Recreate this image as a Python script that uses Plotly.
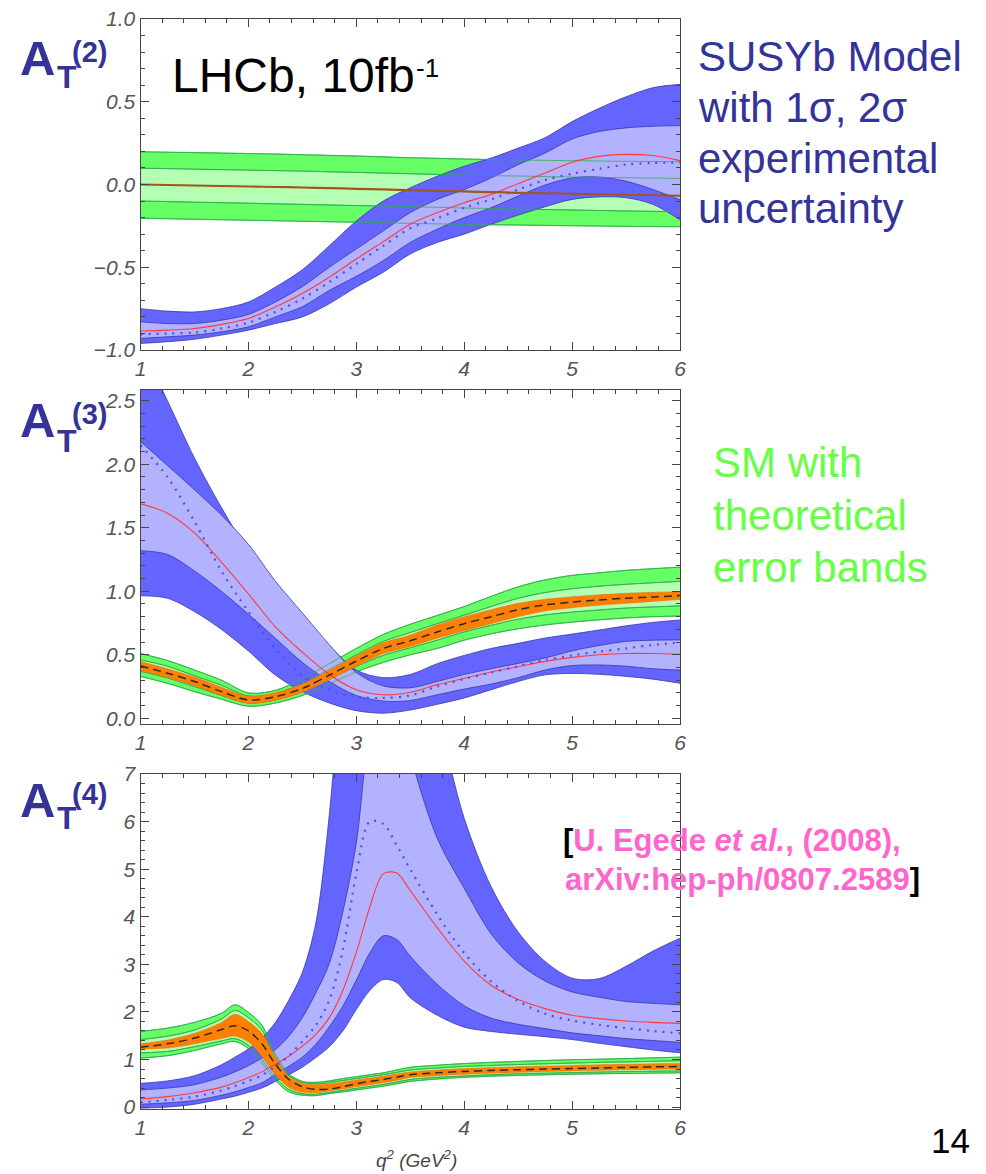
import plotly.graph_objects as go
from plotly.subplots import make_subplots

W, H = 986, 1174

# ---------------- data ----------------
x1 = [1.0, 1.25, 1.5, 1.75, 2.0, 2.25, 2.5, 2.75, 3.0, 3.25, 3.5, 3.75,
      4.0, 4.25, 4.5, 4.75, 5.0, 5.25, 5.5, 5.75, 6.0]

# Panel 1: A_T^(2)
sm1_center = [0.0, -0.003, -0.006, -0.009, -0.012, -0.015, -0.018, -0.022, -0.026, -0.03, -0.034,
              -0.038, -0.042, -0.046, -0.05, -0.053, -0.056, -0.059, -0.062, -0.065, -0.068]
sm1_outer_hi = [0.198, 0.195, 0.193, 0.19, 0.187, 0.184, 0.18, 0.176, 0.172, 0.167, 0.162,
                0.158, 0.154, 0.151, 0.148, 0.146, 0.144, 0.142, 0.14, 0.139, 0.138]
sm1_outer_lo = [-0.204, -0.207, -0.21, -0.213, -0.216, -0.219, -0.222, -0.225, -0.228, -0.231, -0.235,
                -0.238, -0.241, -0.243, -0.245, -0.247, -0.249, -0.251, -0.253, -0.254, -0.255]
sm1_inner_hi = [0.098, 0.096, 0.093, 0.09, 0.087, 0.084, 0.081, 0.077, 0.073, 0.069, 0.065,
                0.061, 0.057, 0.054, 0.051, 0.048, 0.045, 0.043, 0.041, 0.039, 0.037]
sm1_inner_lo = [-0.10, -0.103, -0.107, -0.11, -0.113, -0.117, -0.12, -0.124, -0.127, -0.131, -0.134,
                -0.138, -0.142, -0.145, -0.148, -0.151, -0.154, -0.157, -0.16, -0.162, -0.164]

np1_2s_hi = [-0.75, -0.765, -0.77, -0.75, -0.71, -0.62, -0.515, -0.37, -0.22, -0.10, -0.02,
             0.05, 0.11, 0.16, 0.22, 0.283, 0.38, 0.46, 0.53, 0.585, 0.605]
np1_1s_hi = [-0.83, -0.84, -0.84, -0.82, -0.785, -0.71, -0.617, -0.50, -0.39, -0.28, -0.17,
             -0.09, -0.03, 0.04, 0.12, 0.19, 0.275, 0.32, 0.342, 0.352, 0.356]
np1_central = [-0.885, -0.88, -0.87, -0.845, -0.81, -0.74, -0.658, -0.56, -0.45, -0.345, -0.24,
               -0.17, -0.11, -0.06, 0.005, 0.07, 0.135, 0.17, 0.182, 0.175, 0.144]
np1_dotted = [-0.905, -0.90, -0.895, -0.87, -0.835, -0.77, -0.69, -0.59, -0.48, -0.37, -0.265,
              -0.205, -0.14, -0.09, -0.03, 0.027, 0.065, 0.095, 0.12, 0.13, 0.132]
np1_1s_lo = [-0.93, -0.92, -0.91, -0.89, -0.86, -0.80, -0.738, -0.64, -0.555, -0.46, -0.35,
             -0.27, -0.20, -0.14, -0.07, -0.003, 0.04, 0.045, 0.02, -0.03, -0.093]
np1_2s_lo = [-0.96, -0.95, -0.935, -0.91, -0.88, -0.84, -0.80, -0.72, -0.62, -0.53, -0.42,
             -0.35, -0.30, -0.24, -0.185, -0.134, -0.09, -0.075, -0.08, -0.12, -0.214]

# Panel 2: A_T^(3)
sm2_center = [0.412, 0.355, 0.29, 0.21, 0.145, 0.17, 0.235, 0.34, 0.45, 0.55, 0.61,
              0.68, 0.745, 0.80, 0.855, 0.893, 0.915, 0.932, 0.945, 0.955, 0.966]
sm2_outer_hi = [0.51, 0.455, 0.38, 0.30, 0.20, 0.22, 0.31, 0.43, 0.55, 0.66, 0.74,
                0.81, 0.88, 0.96, 1.035, 1.09, 1.125, 1.145, 1.165, 1.178, 1.19]
sm2_outer_lo = [0.33, 0.275, 0.21, 0.15, 0.095, 0.12, 0.18, 0.27, 0.365, 0.44, 0.50,
                0.55, 0.615, 0.665, 0.705, 0.735, 0.757, 0.775, 0.79, 0.80, 0.805]
sm2_inner_hi = [0.46, 0.41, 0.335, 0.26, 0.175, 0.195, 0.275, 0.385, 0.50, 0.605, 0.675,
                0.745, 0.812, 0.88, 0.945, 0.99, 1.02, 1.04, 1.055, 1.067, 1.078]
sm2_inner_lo = [0.37, 0.318, 0.25, 0.18, 0.12, 0.145, 0.21, 0.305, 0.408, 0.495, 0.555,
                0.615, 0.68, 0.732, 0.78, 0.814, 0.836, 0.853, 0.868, 0.877, 0.885]
sm2_core_hi = [0.448, 0.39, 0.325, 0.245, 0.175, 0.2, 0.27, 0.378, 0.492, 0.595, 0.655,
               0.735, 0.80, 0.855, 0.905, 0.937, 0.957, 0.972, 0.984, 0.992, 0.997]
sm2_core_lo = [0.377, 0.322, 0.257, 0.18, 0.118, 0.14, 0.205, 0.305, 0.41, 0.508, 0.565,
               0.63, 0.69, 0.745, 0.80, 0.845, 0.87, 0.89, 0.905, 0.92, 0.935]

np2_2s_hi = [2.95, 2.50, 2.05, 1.66, 1.31, 1.01, 0.78, 0.57, 0.38, 0.32, 0.345,
             0.43, 0.495, 0.55, 0.59, 0.632, 0.663, 0.695, 0.728, 0.755, 0.774]
np2_1s_hi = [2.18, 1.99, 1.80, 1.60, 1.37, 1.08, 0.83, 0.58, 0.36, 0.255, 0.24,
             0.29, 0.345, 0.39, 0.432, 0.475, 0.53, 0.573, 0.605, 0.615, 0.617]
np2_central = [1.69, 1.615, 1.46, 1.23, 0.98, 0.72, 0.52, 0.345, 0.225, 0.185, 0.205,
               0.265, 0.315, 0.365, 0.406, 0.448, 0.48, 0.50, 0.51, 0.51, 0.504]
np2_dotted = [2.15, 1.90, 1.55, 1.16, 0.84, 0.55, 0.335, 0.225, 0.17, 0.16, 0.18,
              0.25, 0.31, 0.36, 0.41, 0.46, 0.495, 0.525, 0.55, 0.578, 0.596]
np2_1s_lo = [1.32, 1.29, 1.16, 1.0, 0.82, 0.63, 0.44, 0.29, 0.18, 0.135, 0.14,
             0.185, 0.23, 0.27, 0.32, 0.38, 0.415, 0.42, 0.41, 0.39, 0.38]
np2_2s_lo = [0.965, 0.945, 0.84, 0.70, 0.53, 0.34, 0.21, 0.12, 0.06, 0.04, 0.065,
             0.11, 0.16, 0.225, 0.29, 0.342, 0.353, 0.346, 0.33, 0.308, 0.276]

# Panel 3: A_T^(4)
x3 = [1.0, 1.25, 1.5, 1.75, 1.875, 2.0, 2.125, 2.25, 2.375, 2.5, 2.625, 2.75, 2.875, 3.0,
      3.125, 3.25, 3.375, 3.5, 3.75, 4.0, 4.25, 4.5, 4.75, 5.0, 5.25, 5.5, 5.75, 6.0]

sm3_outer_hi = [1.59, 1.66, 1.78, 1.97, 2.15, 1.99, 1.72, 1.12, 0.70, 0.54, 0.52, 0.55, 0.60, 0.64,
                0.68, 0.72, 0.78, 0.835, 0.88, 0.915, 0.94, 0.96, 0.98, 0.995, 1.007, 1.02, 1.035, 1.05]
sm3_inner_hi = [1.42, 1.49, 1.62, 1.85, 2.03, 1.88, 1.62, 1.07, 0.66, 0.52, 0.49, 0.515, 0.56, 0.60,
                0.64, 0.68, 0.73, 0.78, 0.82, 0.855, 0.875, 0.895, 0.91, 0.925, 0.94, 0.95, 0.962, 0.975]
sm3_core_hi = [1.33, 1.41, 1.55, 1.78, 1.95, 1.80, 1.55, 1.04, 0.64, 0.50, 0.47, 0.49, 0.53, 0.57,
               0.61, 0.65, 0.70, 0.74, 0.78, 0.81, 0.83, 0.85, 0.86, 0.875, 0.89, 0.90, 0.912, 0.924]
sm3_center = [1.26, 1.33, 1.45, 1.63, 1.71, 1.60, 1.33, 0.90, 0.58, 0.43, 0.37, 0.38, 0.43, 0.49,
              0.54, 0.58, 0.63, 0.68, 0.72, 0.75, 0.77, 0.785, 0.798, 0.81, 0.822, 0.834, 0.845, 0.854]
sm3_core_lo = [1.22, 1.24, 1.33, 1.44, 1.49, 1.37, 1.07, 0.68, 0.41, 0.31, 0.30, 0.34, 0.38, 0.43,
               0.47, 0.51, 0.56, 0.62, 0.66, 0.69, 0.71, 0.73, 0.748, 0.76, 0.772, 0.783, 0.792, 0.80]
sm3_inner_lo = [1.14, 1.17, 1.27, 1.39, 1.44, 1.30, 1.0, 0.62, 0.37, 0.28, 0.27, 0.31, 0.35, 0.395,
                0.435, 0.475, 0.525, 0.58, 0.625, 0.655, 0.68, 0.70, 0.713, 0.725, 0.736, 0.745, 0.753, 0.76]
sm3_outer_lo = [1.03, 1.08, 1.19, 1.33, 1.38, 1.23, 0.93, 0.56, 0.32, 0.25, 0.24, 0.285, 0.32, 0.36,
                0.40, 0.44, 0.49, 0.54, 0.59, 0.625, 0.65, 0.665, 0.679, 0.69, 0.70, 0.707, 0.714, 0.72]

np3_2s_hi = [0.50, 0.55, 0.66, 0.89, 1.05, 1.22, 1.45, 1.78, 2.25, 2.83, 3.87, 6.15, 9.5, 12.0,
             13.0, 13.0, 12.5, 10.5, 8.3, 6.07, 4.63, 3.68, 3.06, 2.71, 2.70, 2.96, 3.28, 3.55]
np3_1s_hi = [0.36, 0.40, 0.47, 0.63, 0.74, 0.87, 1.03, 1.21, 1.49, 1.88, 2.4, 3.02, 4.1, 5.55,
             7.9, 8.8, 8.6, 7.4, 5.65, 4.6, 3.64, 3.03, 2.65, 2.42, 2.31, 2.22, 2.18, 2.15]
np3_central = [0.17, 0.22, 0.30, 0.42, 0.51, 0.62, 0.74, 0.90, 1.07, 1.28, 1.53, 1.88, 2.45, 3.25,
               4.2, 4.9, 4.92, 4.55, 3.77, 3.07, 2.56, 2.26, 2.07, 1.93, 1.86, 1.81, 1.78, 1.76]
np3_dotted = [0.10, 0.15, 0.22, 0.35, 0.44, 0.55, 0.67, 0.86, 1.08, 1.38, 1.72, 2.25, 3.3, 4.9,
              6.0, 5.95, 5.5, 5.0, 4.05, 3.24, 2.64, 2.23, 1.96, 1.82, 1.73, 1.66, 1.60, 1.55]
np3_1s_lo = [0.06, 0.09, 0.14, 0.25, 0.32, 0.41, 0.51, 0.69, 0.86, 1.05, 1.32, 1.69, 2.12, 2.67,
             3.24, 3.6, 3.52, 3.17, 2.58, 2.13, 1.87, 1.74, 1.65, 1.56, 1.50, 1.44, 1.40, 1.36]
np3_2s_lo = [-0.02, 0.0, 0.06, 0.17, 0.23, 0.31, 0.40, 0.54, 0.68, 0.84, 1.04, 1.27, 1.60, 2.05,
             2.45, 2.68, 2.62, 2.3, 1.93, 1.68, 1.59, 1.53, 1.48, 1.42, 1.34, 1.27, 1.20, 1.14]

x_ticks = [1, 2, 3, 4, 5, 6]

# ---------------- styling ----------------
DARK_BLUE = '#6464FF'
LIGHT_BLUE = '#B2B2FF'
BLUE_EDGE = '#3838A8'
GREEN = '#66FF66'
LIGHT_GREEN = '#B4FFB4'
GREEN_EDGE = '#2FB04A'
ORANGE = '#FF8000'
RED = '#FF3A3A'
DOT_BLUE = '#4B4BFF'
LABEL_BLUE = '#333399'

fig = make_subplots(rows=3, cols=1)


def line(x, y, row, color, width, dash=None, fill=None, fillcolor=None):
    d = dict(color=color, width=width, shape='spline', smoothing=0.9)
    if dash:
        d['dash'] = dash
    kw = dict(x=x, y=y, mode='lines', line=d, hoverinfo='skip', showlegend=False)
    if fill:
        kw['fill'] = fill
        kw['fillcolor'] = fillcolor
    fig.add_trace(go.Scatter(**kw), row=row, col=1)


def band(x, lo, hi, row, fillcolor, edge, ew):
    line(x, lo, row, edge, ew)
    line(x, hi, row, edge, ew, fill='tonexty', fillcolor=fillcolor)


def panel(row, x, sm, np_, core):
    band(x, sm['outer_lo'], sm['outer_hi'], row, GREEN, GREEN_EDGE, 0.8)
    band(x, sm['inner_lo'], sm['inner_hi'], row, LIGHT_GREEN, GREEN_EDGE, 0.8)
    band(x, np_['2s_lo'], np_['2s_hi'], row, DARK_BLUE, BLUE_EDGE, 0.8)
    band(x, np_['1s_lo'], np_['1s_hi'], row, LIGHT_BLUE, BLUE_EDGE, 0.8)
    for k in ['outer_lo', 'outer_hi', 'inner_lo', 'inner_hi']:
        line(x, sm[k], row, GREEN_EDGE, 0.8)
    if core:
        band(x, sm['core_lo'], sm['core_hi'], row, ORANGE, '#E07010', 0.5)
    line(x, np_['central'], row, RED, 1.1)
    line(x, np_['dotted'], row, DOT_BLUE, 2.2, dash='2px,6px')
    if core:
        line(x, sm['center'], row, '#2A2A2A', 1.5, dash='8px,5px')
    else:
        line(x, sm['center'], row, '#A0561C', 2.2)


panel(1, x1,
      dict(center=sm1_center, outer_hi=sm1_outer_hi, outer_lo=sm1_outer_lo,
           inner_hi=sm1_inner_hi, inner_lo=sm1_inner_lo),
      {'2s_hi': np1_2s_hi, '1s_hi': np1_1s_hi, 'central': np1_central,
       'dotted': np1_dotted, '1s_lo': np1_1s_lo, '2s_lo': np1_2s_lo}, False)
panel(2, x1,
      dict(center=sm2_center, outer_hi=sm2_outer_hi, outer_lo=sm2_outer_lo,
           inner_hi=sm2_inner_hi, inner_lo=sm2_inner_lo, core_hi=sm2_core_hi, core_lo=sm2_core_lo),
      {'2s_hi': np2_2s_hi, '1s_hi': np2_1s_hi, 'central': np2_central,
       'dotted': np2_dotted, '1s_lo': np2_1s_lo, '2s_lo': np2_2s_lo}, True)
panel(3, x3,
      dict(center=sm3_center, outer_hi=sm3_outer_hi, outer_lo=sm3_outer_lo,
           inner_hi=sm3_inner_hi, inner_lo=sm3_inner_lo, core_hi=sm3_core_hi, core_lo=sm3_core_lo),
      {'2s_hi': np3_2s_hi, '1s_hi': np3_1s_hi, 'central': np3_central,
       'dotted': np3_dotted, '1s_lo': np3_1s_lo, '2s_lo': np3_2s_lo}, True)

TICKFONT = dict(family='Liberation Sans, Arial, sans-serif', size=21, color='#555555', style='italic')
AX = dict(showline=True, linecolor='#444444', linewidth=1.2, mirror='allticks',
          ticks='inside', ticklen=8, tickwidth=1, tickcolor='#444444',
          showgrid=False, zeroline=False, tickfont=TICKFONT, automargin=False)

xdom = [140.5 / W, 680 / W]
ydoms = [(19, 350), (390, 724), (774, 1109)]
yranges = [[-1, 1], [-0.045, 2.585], [-0.04, 7.0]]
ydticks = [0.5, 0.5, 1]
yminor = [0.1, 0.1, 0.2]
yfmt = ['.1f', '.1f', 'd']

for i in range(3):
    r = i + 1
    top, bot = ydoms[i]
    fig.update_xaxes(domain=xdom, range=[1, 6], tickvals=x_ticks,
                     minor=dict(dtick=0.2, tick0=1, ticks='inside', ticklen=4, tickcolor='#444444'),
                     row=r, col=1, **AX)
    fig.update_yaxes(domain=[1 - bot / H, 1 - top / H], range=yranges[i],
                     dtick=ydticks[i], tick0=0, tickformat=yfmt[i],
                     minor=dict(dtick=yminor[i], tick0=0, ticks='inside', ticklen=4, tickcolor='#444444'),
                     row=r, col=1, **AX)

ANN = []


def ann(text, x, y, size, color, bold=False, italic=False, xanchor='left'):
    f = dict(family='Liberation Sans, Arial, sans-serif', size=size, color=color)
    if italic:
        f['style'] = 'italic'
    if bold:
        text = '<b>' + text + '</b>'
    ANN.append(dict(text=text, x=x / W, y=1 - y / H, xref='paper', yref='paper',
                    showarrow=False, xanchor=xanchor, yanchor='middle', font=f))


for (ya, yt, yp, n) in [(58, 77, 52, '2'), (420, 441, 414, '3'), (800, 818, 794, '4')]:
    ann('A', 18, ya, 49, LABEL_BLUE, bold=True)
    ann('T', 55, yt, 32, LABEL_BLUE, bold=True)
    ann('(' + n + ')', 70, yp, 29, LABEL_BLUE, bold=True)

ann('LHCb, 10fb', 170, 75, 48, 'black')
ann('-1', 414, 68, 26, 'black')

for t, yy in [('SUSYb Model', 57), ('with 1\u03c3, 2\u03c3', 107), ('experimental', 158), ('uncertainty', 208)]:
    ann(t, 696, yy, 42, LABEL_BLUE)

for t, yy in [('SM with', 463), ('theoretical', 515), ('error bands', 567)]:
    ann(t, 711, yy, 42, '#66FF44')

PINK = '#FF66CC'
ann('<span style="color:black">[</span>U. Egede <i>et al.</i>, (2008),', 561, 841, 31, PINK, bold=True)
ann('arXiv:hep-ph/0807.2589<span style="color:black">]</span>', 563, 879, 31, PINK, bold=True)

ann('14', 929, 1140, 35, 'black')
ann('q<sup>2</sup> (GeV<sup>2</sup>)', 416, 1159, 19, '#444444', italic=True, xanchor='center')

fig.update_layout(width=W, height=H, margin=dict(l=0, r=0, t=0, b=0),
                  paper_bgcolor='white', plot_bgcolor='white',
                  showlegend=False, annotations=ANN)

fig.write_html('out.html')
